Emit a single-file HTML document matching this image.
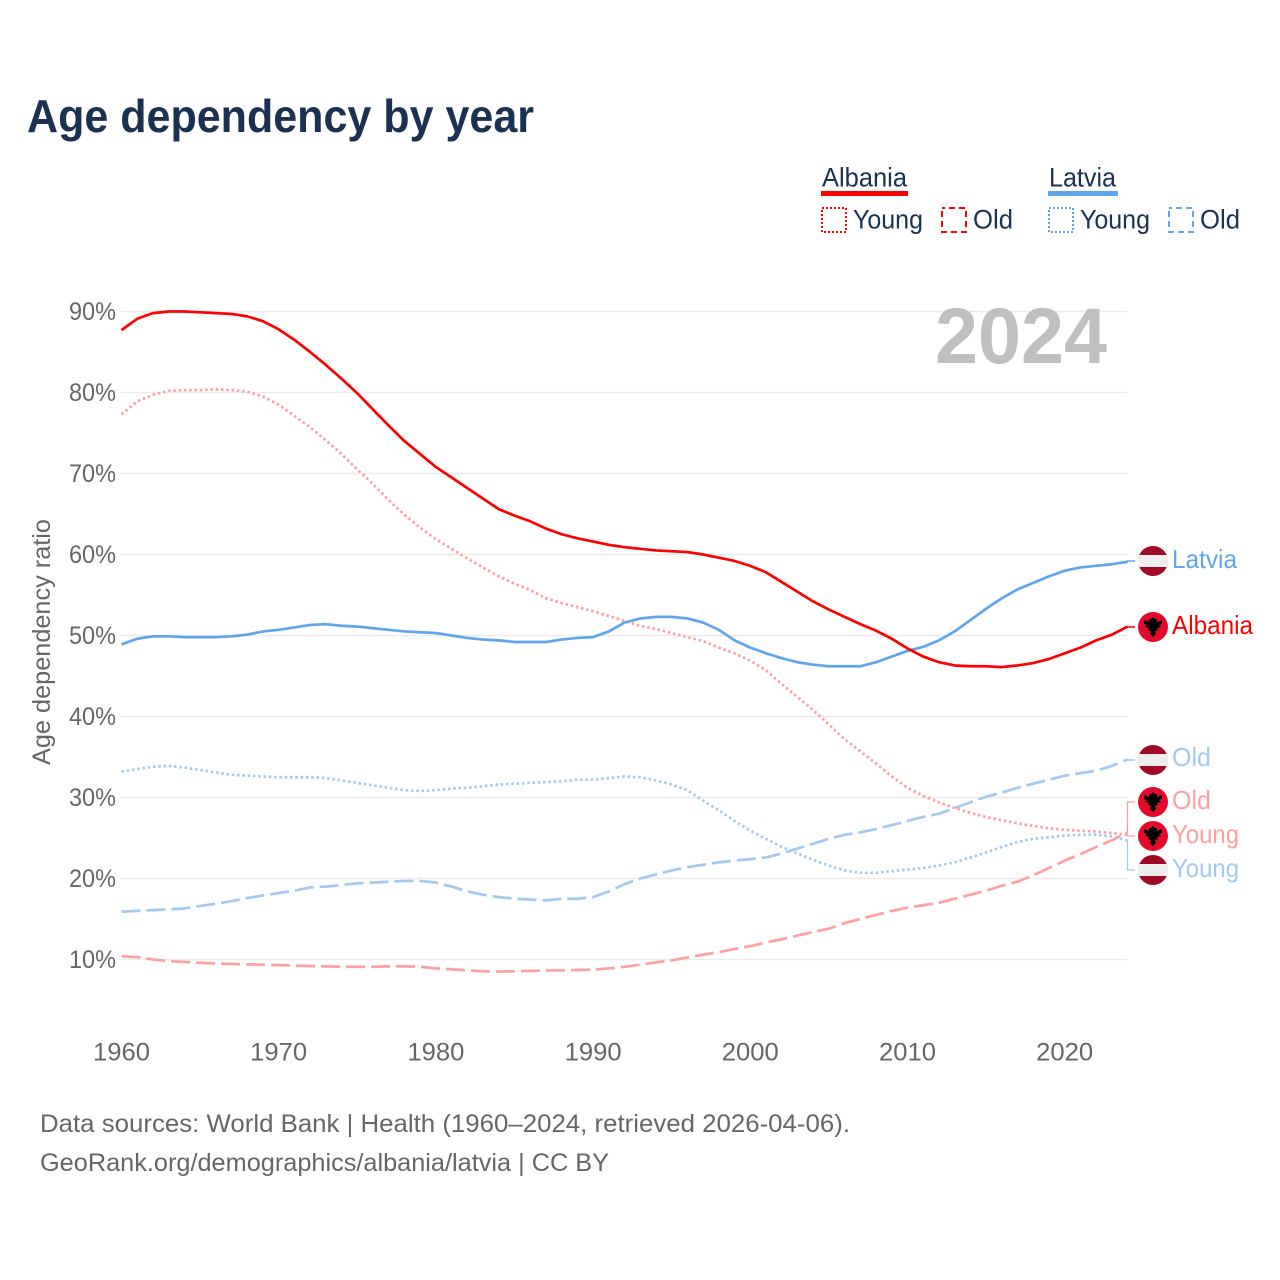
<!DOCTYPE html>
<html lang="en">
<head>
<meta charset="utf-8">
<title>Age dependency by year</title>
<style>
html,body{margin:0;padding:0;background:#fff}
svg{display:block}
text{font-family:"Liberation Sans",sans-serif}
</style>
</head>
<body>
<svg id="chart" xmlns="http://www.w3.org/2000/svg" width="1280" height="1280" viewBox="0 0 1280 1280">
  <defs>
    <g id="eagle">
      <path d="M0-10 2-8 4-8 4-5 9-7 9-3 6-2 8 0 4 1 5 3 2 4 3 7 0 10-3 7-2 4-5 3-4 1-8 0-6-2-9-3-9-7-4-5-4-8-2-8Z" fill="#000"/>
    </g>
  </defs>

  <text x="27" y="132" font-size="46" font-weight="700" fill="#1a3152" textLength="507" lengthAdjust="spacingAndGlyphs">Age dependency by year</text>

  <g>
    <text x="822" y="186.5" font-size="27" fill="#1a3152" textLength="85" lengthAdjust="spacingAndGlyphs">Albania</text>
    <rect x="821" y="191" width="87" height="5" fill="#ff0000"/>
    <rect x="822" y="208" width="24" height="24" fill="none" stroke="#ff0000" stroke-width="2" stroke-dasharray="2 2"/>
    <text x="853" y="228.5" font-size="27" fill="#1a3152" textLength="70" lengthAdjust="spacingAndGlyphs">Young</text>
    <rect x="942" y="208" width="24" height="24" fill="none" stroke="#ff0000" stroke-width="2" stroke-dasharray="6 4" stroke-dashoffset="3"/>
    <text x="973" y="228.5" font-size="27" fill="#1a3152" textLength="40" lengthAdjust="spacingAndGlyphs">Old</text>

    <text x="1049" y="186.5" font-size="27" fill="#1a3152" textLength="67" lengthAdjust="spacingAndGlyphs">Latvia</text>
    <rect x="1048" y="191" width="70" height="5" fill="#5fa5ee"/>
    <rect x="1049" y="208" width="24" height="24" fill="none" stroke="#5fa5ee" stroke-width="2" stroke-dasharray="2 2"/>
    <text x="1080" y="228.5" font-size="27" fill="#1a3152" textLength="70" lengthAdjust="spacingAndGlyphs">Young</text>
    <rect x="1169" y="208" width="24" height="24" fill="none" stroke="#5fa5ee" stroke-width="2" stroke-dasharray="6 4" stroke-dashoffset="3"/>
    <text x="1200" y="228.5" font-size="27" fill="#1a3152" textLength="40" lengthAdjust="spacingAndGlyphs">Old</text>
  </g>

  <g id="grid"></g>
  <g id="yticks"></g>
  <g id="xticks"></g>

  <text x="0" y="0" transform="translate(50 765) rotate(-90)" font-size="25" fill="#666" textLength="246" lengthAdjust="spacingAndGlyphs">Age dependency ratio</text>

  <text x="935" y="363" font-size="79" font-weight="700" fill="#bfbfbf" textLength="172" lengthAdjust="spacingAndGlyphs">2024</text>

  <g id="series"></g>
  <g id="stubs"></g>

  <g>
    <g>
      <circle cx="1153" cy="561" r="15" fill="#a00a25"/>
      <rect x="1138" y="555" width="30" height="12" fill="#eeeeee"/>
    </g>
    <text x="1172" y="568" font-size="26" fill="#5fa5ee" textLength="65" lengthAdjust="spacingAndGlyphs">Latvia</text>

    <g>
      <circle cx="1153" cy="627" r="15" fill="#e30a2c"/>
      <use href="#eagle" x="1153" y="627"/>
    </g>
    <text x="1172" y="634" font-size="26" fill="#ff0000" textLength="81" lengthAdjust="spacingAndGlyphs">Albania</text>

    <g>
      <circle cx="1153" cy="760" r="15" fill="#a00a25"/>
      <rect x="1138" y="754" width="30" height="12" fill="#eeeeee"/>
    </g>
    <text x="1172" y="766" font-size="26" fill="#a3c9f1" textLength="39" lengthAdjust="spacingAndGlyphs">Old</text>

    <g>
      <circle cx="1153" cy="802" r="15" fill="#e30a2c"/>
      <use href="#eagle" x="1153" y="802"/>
    </g>
    <text x="1172" y="809" font-size="26" fill="#ff9f9f" textLength="39" lengthAdjust="spacingAndGlyphs">Old</text>

    <g>
      <circle cx="1153" cy="836" r="15" fill="#e30a2c"/>
      <use href="#eagle" x="1153" y="836"/>
    </g>
    <text x="1172" y="843" font-size="26" fill="#ff9f9f" textLength="67" lengthAdjust="spacingAndGlyphs">Young</text>

    <g>
      <circle cx="1153" cy="870" r="15" fill="#a00a25"/>
      <rect x="1138" y="864" width="30" height="12" fill="#eeeeee"/>
    </g>
    <text x="1172" y="877" font-size="26" fill="#a3c9f1" textLength="67" lengthAdjust="spacingAndGlyphs">Young</text>
  </g>

  <text x="40" y="1132" font-size="25" fill="#666" textLength="810" lengthAdjust="spacingAndGlyphs">Data sources: World Bank | Health (1960–2024, retrieved 2026-04-06).</text>
  <text x="40" y="1171" font-size="25" fill="#666" textLength="569" lengthAdjust="spacingAndGlyphs">GeoRank.org/demographics/albania/latvia | CC BY</text>
</svg>

<script>
const startYear = 1960;
const xTickYears = [1960, 1970, 1980, 1990, 2000, 2010, 2020];
const yTickValues = [10, 20, 30, 40, 50, 60, 70, 80, 90];

const albaniaTotal = [87.7,89.1,89.8,90.0,90.0,89.9,89.8,89.7,89.4,88.8,87.8,86.5,85.0,83.4,81.7,79.9,77.9,75.9,74.0,72.4,70.8,69.5,68.2,66.9,65.6,64.8,64.1,63.2,62.5,62.0,61.6,61.2,60.9,60.7,60.5,60.4,60.3,60.0,59.6,59.2,58.6,57.8,56.6,55.4,54.2,53.2,52.3,51.4,50.6,49.6,48.4,47.4,46.7,46.3,46.2,46.2,46.1,46.3,46.6,47.1,47.8,48.5,49.4,50.1,51.1];
const albaniaYoung = [77.3,78.9,79.7,80.2,80.3,80.3,80.4,80.3,80.1,79.5,78.5,77.1,75.7,74.1,72.4,70.5,68.7,66.7,64.9,63.3,61.9,60.7,59.5,58.4,57.3,56.4,55.6,54.6,54.0,53.5,53.0,52.4,51.8,51.2,50.8,50.3,49.8,49.3,48.5,47.8,46.9,45.7,44.0,42.4,40.8,39.0,37.2,35.7,34.2,32.6,31.2,30.2,29.4,28.7,28.1,27.6,27.2,26.8,26.5,26.2,26.0,25.9,25.8,25.6,25.4];
const albaniaOld = [10.4,10.3,10.0,9.8,9.7,9.6,9.5,9.45,9.4,9.35,9.3,9.25,9.2,9.15,9.1,9.1,9.1,9.15,9.15,9.1,8.9,8.8,8.65,8.55,8.5,8.55,8.6,8.65,8.65,8.7,8.75,8.9,9.1,9.35,9.65,9.9,10.25,10.6,10.9,11.3,11.65,12.1,12.5,12.95,13.4,13.8,14.5,15.0,15.5,16.0,16.4,16.7,17.0,17.5,18.0,18.5,19.1,19.6,20.4,21.3,22.2,23.0,23.9,24.7,25.7];
const latviaTotal = [48.9,49.6,49.9,49.9,49.8,49.8,49.8,49.9,50.1,50.5,50.7,51.0,51.3,51.4,51.2,51.1,50.9,50.7,50.5,50.4,50.3,50.0,49.7,49.5,49.4,49.2,49.2,49.2,49.5,49.7,49.8,50.5,51.6,52.1,52.3,52.3,52.1,51.6,50.7,49.4,48.5,47.8,47.2,46.7,46.4,46.2,46.2,46.2,46.7,47.4,48.1,48.6,49.4,50.5,51.9,53.3,54.6,55.7,56.5,57.3,58.0,58.4,58.6,58.8,59.1];
const latviaYoung = [33.2,33.5,33.8,33.9,33.7,33.4,33.1,32.8,32.7,32.6,32.5,32.5,32.5,32.4,32.1,31.8,31.5,31.2,30.9,30.8,30.9,31.1,31.2,31.4,31.6,31.7,31.8,31.9,32.0,32.2,32.2,32.4,32.6,32.5,32.1,31.6,30.9,29.6,28.4,27.1,25.9,24.9,23.9,23.1,22.3,21.6,21.0,20.7,20.7,20.9,21.1,21.3,21.6,22.0,22.6,23.2,23.9,24.5,24.9,25.1,25.3,25.4,25.4,25.2,24.7];
const latviaOld = [15.9,16.0,16.1,16.2,16.3,16.6,16.9,17.2,17.6,17.9,18.2,18.5,18.9,19.0,19.2,19.4,19.5,19.6,19.7,19.7,19.5,19.0,18.4,18.0,17.7,17.5,17.4,17.3,17.5,17.5,17.7,18.4,19.3,20.0,20.5,21.0,21.4,21.7,22.0,22.2,22.4,22.6,23.1,23.7,24.3,24.9,25.4,25.7,26.1,26.6,27.1,27.6,28.0,28.7,29.4,30.1,30.6,31.2,31.7,32.2,32.7,33.0,33.3,33.9,34.7];

const NS = 'http://www.w3.org/2000/svg';
const xScale = function (year) { return 121.5 + (year - 1960) * 15.72; };
const yScale = function (value) { return 311.5 + (90 - value) * 8.1; };
const plotRight = 1127;

const make = function (tag, parent, attrs) {
  const el = document.createElementNS(NS, tag);
  Object.keys(attrs).forEach(function (k) { el.setAttribute(k, attrs[k]); });
  parent.appendChild(el);
  return el;
};

const gridG = document.getElementById('grid');
const yG = document.getElementById('yticks');
yTickValues.forEach(function (v) {
  const line = make('line', gridG, { x1: 121, x2: plotRight, y1: yScale(v), y2: yScale(v), stroke: '#ebebeb', 'stroke-width': 1.5 });
  
  
  const t = make('text', yG, { x: 116, y: yScale(v) + 8.5, 'font-size': 25, fill: '#666', 'text-anchor': 'end', textLength: 47, lengthAdjust: 'spacingAndGlyphs' });
  t.textContent = v + '%';
  
  
});

const xG = document.getElementById('xticks');
xTickYears.forEach(function (y) {
  const t = make('text', xG, { x: xScale(y) - 28.5, y: 1060.5, 'font-size': 25, fill: '#666', textLength: 57, lengthAdjust: 'spacingAndGlyphs' });
  t.textContent = String(y);
  
  
});

const seriesG = document.getElementById('series');
const stubsG = document.getElementById('stubs');

const drawSeries = function (values, color, dash, name) {
  const pts = values.map(function (v, i) { return xScale(startYear + i).toFixed(2) + ',' + yScale(v).toFixed(2); });
  const attrs = { points: pts.join(' '), fill: 'none', stroke: color, 'stroke-width': 2.7, 'stroke-linejoin': 'round' };
  if (dash) { attrs['stroke-dasharray'] = dash; }
  const line = make('polyline', seriesG, attrs);
  
  
};

const drawStub = function (values, color, labelY, name, width) {
  const xe = xScale(startYear + values.length - 1);
  const ye = yScale(values[values.length - 1]).toFixed(2);
  const d = 'M' + xe.toFixed(2) + ' ' + ye + 'H1127.5V' + labelY + 'H1135';
  const p = make('path', stubsG, { d: d, fill: 'none', stroke: color, 'stroke-width': width });
  
  
};

drawSeries(albaniaOld, '#ff9f9f', '19 6', 'line-albania-old');
drawSeries(latviaOld, '#a3c9f1', '19 6', 'line-latvia-old');
drawSeries(latviaYoung, '#a3c9f1', '2.5 2.8', 'line-latvia-young');
drawSeries(albaniaYoung, '#ff9f9f', '2.5 2.8', 'line-albania-young');
drawSeries(latviaTotal, '#5fa5ee', null, 'line-latvia-total');
drawSeries(albaniaTotal, '#ff0000', null, 'line-albania-total');

drawStub(latviaTotal, '#5fa5ee', 561, 'connector-latvia-total', 1.5);
drawStub(albaniaTotal, '#ff0000', 627, 'connector-albania-total', 1.5);
drawStub(latviaOld, '#a3c9f1', 760, 'connector-latvia-old', 1.5);
drawStub(albaniaOld, '#ff9f9f', 802, 'connector-albania-old', 1.2);
drawStub(albaniaYoung, '#ff9f9f', 836, 'connector-albania-young', 1.2);
drawStub(latviaYoung, '#a3c9f1', 870, 'connector-latvia-young', 1.2);
</script>
</body>
</html>
